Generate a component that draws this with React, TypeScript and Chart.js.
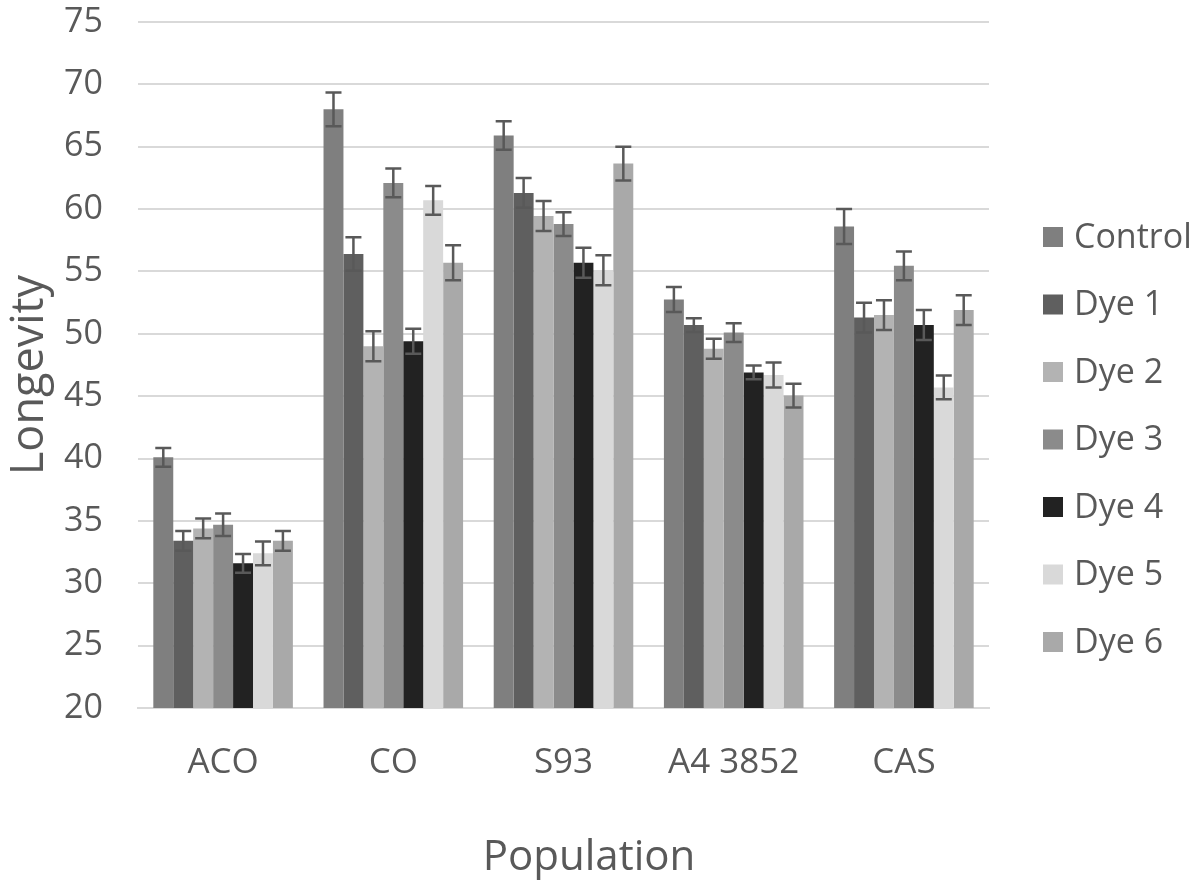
import { useEffect, useRef } from "react";
import { Chart, registerables } from "chart.js";

Chart.register(...registerables);

const categories = ["ACO", "CO", "S93", "A4 3852", "CAS"];
const seriesNames = ["Control", "Dye 1", "Dye 2", "Dye 3", "Dye 4", "Dye 5", "Dye 6"];
const xTitle = "Population";
const yTitle = "Longevity";

const control = [40.1, 68.0, 65.9, 52.75, 58.6];
const dye1 = [33.4, 56.4, 61.3, 50.7, 51.3];
const dye2 = [34.4, 49.0, 59.45, 48.8, 51.5];
const dye3 = [34.7, 62.1, 58.8, 50.1, 55.45];
const dye4 = [31.6, 49.4, 55.7, 46.9, 50.7];
const dye5 = [32.4, 60.7, 55.1, 46.7, 45.7];
const dye6 = [33.4, 55.7, 63.65, 45.05, 51.9];

const controlErr = [0.75, 1.35, 1.15, 1.0, 1.4];
const dye1Err = [0.8, 1.35, 1.2, 0.55, 1.2];
const dye2Err = [0.8, 1.2, 1.2, 0.8, 1.2];
const dye3Err = [0.9, 1.15, 0.95, 0.75, 1.15];
const dye4Err = [0.75, 1.0, 1.2, 0.55, 1.2];
const dye5Err = [0.95, 1.15, 1.2, 1.0, 0.95];
const dye6Err = [0.8, 1.4, 1.35, 0.95, 1.2];

const yMin = 20;
const yMax = 75;
const yStep = 5;

const seriesColors = ["#7f7f7f", "#5f5f5f", "#b3b3b3", "#8b8b8b", "#222222", "#d9d9d9", "#a9a9a9"];

const FONT = "'Open Sans', sans-serif";
const TEXT = "#595959";

export default function App() {
  const ref = useRef<HTMLCanvasElement | null>(null);

  useEffect(() => {
    if (!ref.current) return;
    const values = [control, dye1, dye2, dye3, dye4, dye5, dye6];
    const errors = [controlErr, dye1Err, dye2Err, dye3Err, dye4Err, dye5Err, dye6Err];

    const errorBars = {
      id: "errorBars",
      afterDatasetsDraw(chart: any) {
        const ctx = chart.ctx;
        const y = chart.scales.y;
        ctx.save();
        ctx.strokeStyle = "#595959";
        ctx.lineWidth = 2.5;
        chart.data.datasets.forEach((ds: any, di: number) => {
          const meta = chart.getDatasetMeta(di);
          meta.data.forEach((bar: any, i: number) => {
            const v = ds.data[i];
            const e = errors[di][i];
            const x = bar.x;
            const yt = y.getPixelForValue(v + e);
            const yb = y.getPixelForValue(v - e);
            ctx.beginPath();
            ctx.moveTo(x, yt);
            ctx.lineTo(x, yb);
            ctx.moveTo(x - 8, yt);
            ctx.lineTo(x + 8, yt);
            ctx.moveTo(x - 8, yb);
            ctx.lineTo(x + 8, yb);
            ctx.stroke();
          });
        });
        ctx.restore();
      },
    };

    const customLegendAndTitles = {
      id: "customLegendAndTitles",
      afterDraw(chart: any) {
        const ctx = chart.ctx;
        ctx.save();
        ctx.font = `34px ${FONT}`;
        ctx.textBaseline = "middle";
        ctx.textAlign = "left";
        const startY = 237;
        const step = 67.5;
        seriesNames.forEach((name, i) => {
          const cy = startY + i * step;
          ctx.fillStyle = seriesColors[i];
          ctx.fillRect(1043, cy - 10, 20, 20);
          ctx.fillStyle = TEXT;
          ctx.fillText(name, 1074, cy + 1);
        });

        // axis titles
        ctx.fillStyle = TEXT;
        ctx.textAlign = "center";
        ctx.textBaseline = "alphabetic";
        ctx.font = `42px ${FONT}`;
        ctx.fillText(xTitle, 589, 870);

        ctx.font = `45px ${FONT}`;
        ctx.translate(43, 375);
        ctx.rotate(-Math.PI / 2);
        ctx.fillText(yTitle, 0, 0);
        ctx.restore();
      },
    };

    const chart = new Chart(ref.current, {
      type: "bar",
      data: {
        labels: categories,
        datasets: seriesNames.map((name, i) => ({
          label: name,
          data: values[i],
          backgroundColor: seriesColors[i],
          borderWidth: 0,
          categoryPercentage: 0.82,
          barPercentage: 1,
        })),
      },
      options: {
        animation: false,
        responsive: false,
        maintainAspectRatio: false,
        layout: { padding: { top: 22, right: 212, bottom: 0, left: 0 } },
        plugins: {
          legend: { display: false },
          tooltip: { enabled: false },
        },
        scales: {
          x: {
            grid: { display: false, drawTicks: false },
            border: { display: true, color: "#d9d9d9", width: 2 },
            ticks: { color: TEXT, font: { family: FONT, size: 35 }, padding: 34 },
            afterFit(scale: any) {
              scale.height = 172;
              scale.paddingLeft = 0;
              scale.paddingRight = 0;
            },
          },
          y: {
            min: yMin,
            max: yMax,
            ticks: { stepSize: yStep, color: TEXT, font: { family: FONT, size: 34 }, padding: 35 },
            grid: { color: "#d9d9d9", lineWidth: 2, drawTicks: false },
            border: { display: false },
            afterFit(scale: any) {
              scale.width = 138;
              scale.paddingTop = 0;
              scale.paddingBottom = 0;
            },
          },
        },
      },
      plugins: [errorBars, customLegendAndTitles],
    });
    return () => chart.destroy();
  }, []);

  return (
    <div style={{ position: "fixed", left: 0, top: 0, width: 1201, height: 880, background: "#fff" }}>
      <canvas ref={ref} width={1201} height={880} style={{ width: 1201, height: 880 }} />
    </div>
  );
}
